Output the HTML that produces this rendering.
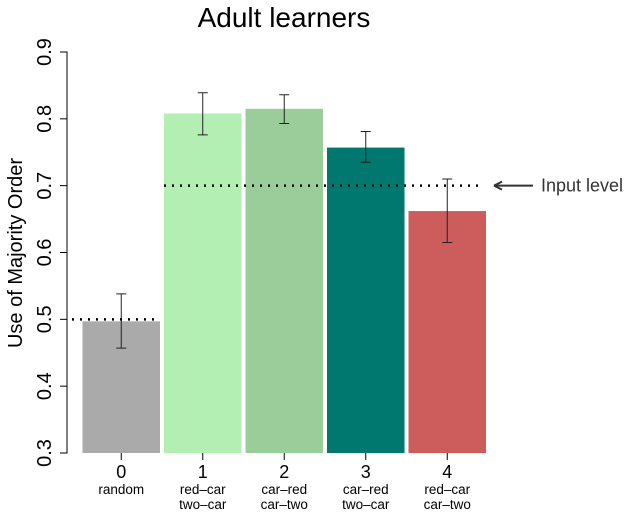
<!DOCTYPE html>
<html><head><meta charset="utf-8"><style>
body{margin:0;background:#fff;}
svg{display:block;font-family:"Liberation Sans",sans-serif;}
</style></head><body>
<svg id="chart" width="634" height="515" viewBox="0 0 634 515" xmlns="http://www.w3.org/2000/svg">
<text x="284" y="27" font-size="28" text-anchor="middle">Adult learners</text>
<g id="bars"></g>
<g id="yaxis"></g>
<g id="xaxis"></g>
<text transform="translate(22,253) rotate(-90)" font-size="20" text-anchor="middle">Use of Majority Order</text>
</svg>
<script>
const categories = ["0","1","2","3","4"];
const subLabels1 = ["random","red–car","car–red","car–red","red–car"];
const subLabels2 = ["","two–car","car–two","two–car","car–two"];
const values = [0.497, 0.808, 0.815, 0.757, 0.662];
const errLow = [0.457, 0.776, 0.793, 0.735, 0.615];
const errHigh = [0.538, 0.839, 0.836, 0.781, 0.710];
const colors = ["#aaaaaa","#b3eeb3","#9acd9a","#00776f","#cd5c5c"];
const yTicks = [0.3,0.4,0.5,0.6,0.7,0.8,0.9];
const randomLevel = 0.5;
const inputLevel = 0.7;

const NS="http://www.w3.org/2000/svg";
const y0=453, y1=52, vmin=0.3, vmax=0.9;
function y(v){return y0-(v-vmin)/(vmax-vmin)*(y0-y1);}
const xStart=82.5, step=81.5, bw=77.5;
function x(i){return xStart+i*step;}
function mk(tag,attrs,parent){const e=document.createElementNS(NS,tag);for(const k in attrs)e.setAttribute(k,attrs[k]);parent.appendChild(e);return e;}
const gb=document.getElementById('bars'), gy=document.getElementById('yaxis'), gx=document.getElementById('xaxis');
values.forEach((v,i)=>{
  const r=mk('rect',{x:x(i),y:y(v),width:bw,height:y0-y(v),fill:colors[i]},gb);
  
  
  const cx=x(i)+bw/2;
  const e=mk('path',{d:`M${cx},${y(errLow[i])}V${y(errHigh[i])}M${cx-5},${y(errLow[i])}H${cx+5}M${cx-5},${y(errHigh[i])}H${cx+5}`,stroke:'#222','stroke-width':1,fill:'none'},gb);
  
  
  const t=mk('path',{d:`M${cx},${y0}V${y0+7}`,stroke:'#000'},gx);
  
  
  const l=mk('text',{x:cx,y:478,'font-size':18,'text-anchor':'middle'},gx);
  l.textContent=categories[i];
  
  
  const s1=mk('text',{x:cx,y:494,'font-size':13.5,'text-anchor':'middle'},gx);
  s1.textContent=subLabels1[i];
  
  
  if(subLabels2[i]){
    const s2=mk('text',{x:cx,y:509,'font-size':13.5,'text-anchor':'middle'},gx);
    s2.textContent=subLabels2[i];
    
    
  }
});
const d1=mk('line',{x1:72,x2:x(0)+bw,y1:y(randomLevel),y2:y(randomLevel),stroke:'#000','stroke-width':2.5,'stroke-dasharray':'2,6'},gb);


const d2=mk('line',{x1:x(1),x2:482,y1:y(inputLevel),y2:y(inputLevel),stroke:'#000','stroke-width':2.5,'stroke-dasharray':'2,6'},gb);


const ar=mk('path',{d:`M494,${y(inputLevel)}H533M494,${y(inputLevel)}l8,-4M494,${y(inputLevel)}l8,4`,stroke:'#333','stroke-width':2,fill:'none'},gb);


const il=mk('text',{x:541,y:y(inputLevel)+6,'font-size':18,fill:'#333'},gb);
il.textContent='Input level';


const ax=mk('path',{d:`M60,${y(yTicks[0])}H67V${y(yTicks[yTicks.length-1])}H60`,stroke:'#000',fill:'none'},gy);


yTicks.forEach(v=>{
  const t=mk('path',{d:`M60,${y(v)}H67`,stroke:'#000'},gy);
  
  
  const l=mk('text',{transform:`translate(51,${y(v)}) rotate(-90)`,'font-size':20,'text-anchor':'middle'},gy);
  l.textContent=v.toFixed(1);
  
  
});
</script>
</body></html>
